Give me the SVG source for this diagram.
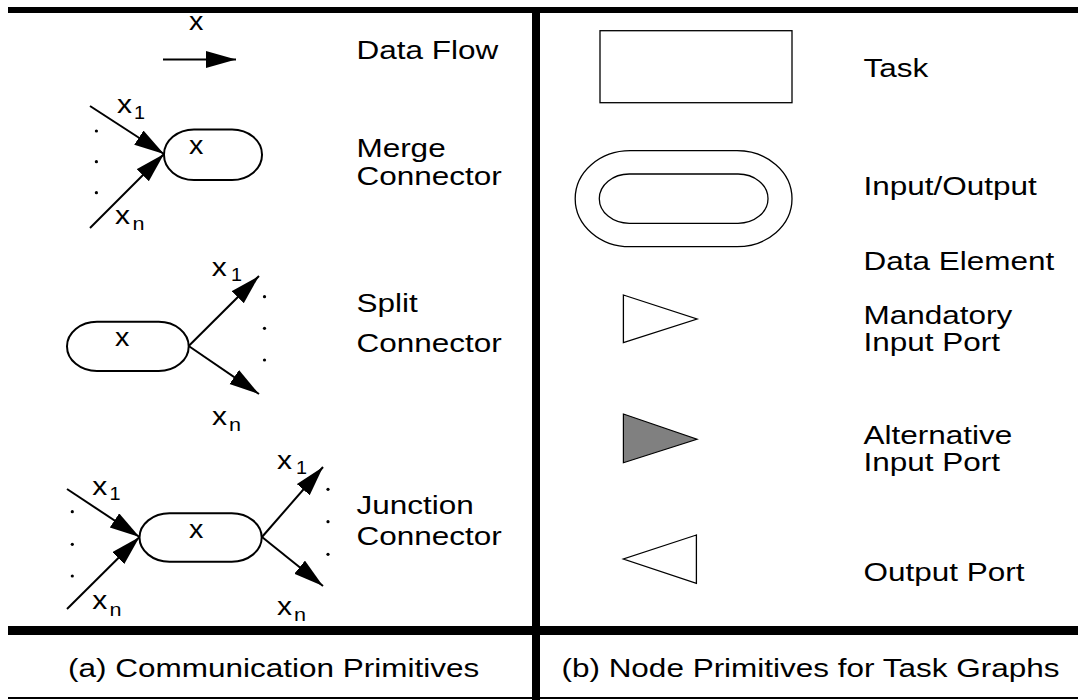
<svg xmlns="http://www.w3.org/2000/svg" width="1078" height="700" viewBox="0 0 1078 700">
<style>
text{font-family:"Liberation Sans",Arial,Helvetica,sans-serif;font-size:25px;fill:#000}
.v{font-size:25px}
.sub{font-size:18px}
.ln{stroke:#000;stroke-width:2;fill:none}
.pill{stroke:#000;stroke-width:2;fill:#fff}
.thin{stroke:#000;stroke-width:1.3;fill:#fff}
.dot{fill:#000}
</style>
<defs>
<marker id="ah" markerUnits="userSpaceOnUse" markerWidth="32" markerHeight="18" refX="30" refY="8.5" orient="auto">
<path d="M0,0 L30,8.5 L0,17 Z" fill="#000"/>
</marker>
</defs>
<rect width="1078" height="700" fill="#fff"/>
<g id="frame">
<rect x="8" y="7" width="1070" height="6" fill="#000"/>
<rect x="532" y="7" width="8" height="693" fill="#000"/>
<rect x="8" y="626" width="1070" height="9" fill="#000"/>
<rect x="8" y="697" width="1070" height="2" fill="#000"/>
</g>
<g id="connectors">
<line class="ln" x1="163" y1="59.5" x2="236" y2="59.5" marker-end="url(#ah)"/>
<line class="ln" x1="90" y1="106" x2="164" y2="154" marker-end="url(#ah)"/>
<line class="ln" x1="90" y1="228" x2="164" y2="154" marker-end="url(#ah)"/>
<line class="ln" x1="188.7" y1="346" x2="259" y2="276" marker-end="url(#ah)"/>
<line class="ln" x1="188.7" y1="346" x2="259" y2="394" marker-end="url(#ah)"/>
<line class="ln" x1="67" y1="489" x2="139.5" y2="537" marker-end="url(#ah)"/>
<line class="ln" x1="67" y1="609" x2="139.5" y2="537" marker-end="url(#ah)"/>
<line class="ln" x1="262" y1="537" x2="323" y2="467" marker-end="url(#ah)"/>
<line class="ln" x1="262" y1="537" x2="323" y2="586" marker-end="url(#ah)"/>
</g>
<g id="data-flow">
<text class="v" transform="translate(189,29.5) scale(1.15,1)">x</text>
<text transform="translate(356.4,58.5) scale(1.26,1)">Data Flow</text>
</g>
<g id="merge-connector">
<rect class="pill" x="164" y="129.5" width="98" height="50.5" rx="30" ry="25"/>
<text class="v" transform="translate(189,154) scale(1.15,1)">x</text>
<text class="v" transform="translate(117,113.3) scale(1.2,1)">x</text>
<text class="sub" transform="translate(134,118.5) scale(1.1,1)">1</text>
<text class="v" transform="translate(115,224) scale(1.2,1)">x</text>
<text class="sub" transform="translate(132.6,230) scale(1.2,1)">n</text>
<circle class="dot" cx="96.4" cy="131" r="1.6"/>
<circle class="dot" cx="96.4" cy="161.7" r="1.6"/>
<circle class="dot" cx="96.4" cy="192.7" r="1.6"/>
<text transform="translate(356.4,157) scale(1.26,1)">Merge</text>
<text transform="translate(356.4,185) scale(1.26,1)">Connector</text>
</g>
<g id="split-connector">
<rect class="pill" x="67" y="321.7" width="121.7" height="49.3" rx="30" ry="24.6"/>
<text class="v" transform="translate(115,346) scale(1.15,1)">x</text>
<text class="v" transform="translate(211.8,276) scale(1.2,1)">x</text>
<text class="sub" transform="translate(231,281) scale(1.1,1)">1</text>
<text class="v" transform="translate(212,425) scale(1.2,1)">x</text>
<text class="sub" transform="translate(229,430.5) scale(1.2,1)">n</text>
<circle class="dot" cx="264.5" cy="296.7" r="1.6"/>
<circle class="dot" cx="264.5" cy="328.3" r="1.6"/>
<circle class="dot" cx="264.5" cy="360" r="1.6"/>
<text transform="translate(356.4,312) scale(1.26,1)">Split</text>
<text transform="translate(356.4,352) scale(1.26,1)">Connector</text>
</g>
<g id="junction-connector">
<rect class="pill" x="139.5" y="513.3" width="122.2" height="48.4" rx="30" ry="24.2"/>
<text class="v" transform="translate(189,538.3) scale(1.15,1)">x</text>
<text class="v" transform="translate(92.3,495) scale(1.2,1)">x</text>
<text class="sub" transform="translate(109.5,500) scale(1.1,1)">1</text>
<text class="v" transform="translate(92.3,609.3) scale(1.2,1)">x</text>
<text class="sub" transform="translate(109.5,615.5) scale(1.2,1)">n</text>
<text class="v" transform="translate(277,468.5) scale(1.2,1)">x</text>
<text class="sub" transform="translate(296,473.5) scale(1.1,1)">1</text>
<text class="v" transform="translate(277,615) scale(1.2,1)">x</text>
<text class="sub" transform="translate(294,621) scale(1.2,1)">n</text>
<circle class="dot" cx="72.3" cy="511.7" r="1.6"/>
<circle class="dot" cx="72.3" cy="544.3" r="1.6"/>
<circle class="dot" cx="72.3" cy="576" r="1.6"/>
<circle class="dot" cx="328" cy="489.3" r="1.6"/>
<circle class="dot" cx="328" cy="521.7" r="1.6"/>
<circle class="dot" cx="328" cy="554.3" r="1.6"/>
<text transform="translate(356.4,514) scale(1.26,1)">Junction</text>
<text transform="translate(356.4,545) scale(1.26,1)">Connector</text>
</g>
<g id="caption-a">
<text transform="translate(68,676.5) scale(1.26,1)">(a) Communication Primitives</text>
</g>
<g id="task">
<rect class="thin" x="600" y="30.7" width="192" height="72"/>
<text transform="translate(863.4,77.3) scale(1.26,1)">Task</text>
</g>
<g id="input-output">
<rect class="thin" x="575.2" y="150.7" width="216.8" height="96" rx="55" ry="48"/>
<rect class="thin" x="599.3" y="174" width="168.7" height="49.3" rx="30" ry="24.6"/>
<text transform="translate(863.4,195) scale(1.26,1)">Input/Output</text>
</g>
<g id="mandatory-input-port">
<text transform="translate(863.4,270) scale(1.26,1)">Data Element</text>
<polygon class="thin" points="623.4,295 697,319 623.4,342.7" stroke-width="1.2"/>
<text transform="translate(863.4,324) scale(1.26,1)">Mandatory</text>
<text transform="translate(863.4,351) scale(1.26,1)">Input Port</text>
</g>
<g id="alternative-input-port">
<polygon points="623.4,414 697,439.3 623.4,462.7" fill="#808080" stroke="#000" stroke-width="1.2"/>
<text transform="translate(863.4,444) scale(1.26,1)">Alternative</text>
<text transform="translate(863.4,471) scale(1.26,1)">Input Port</text>
</g>
<g id="output-port">
<polygon class="thin" points="696.4,535 623.4,559 696.4,583.3" stroke-width="1.2"/>
<text transform="translate(863.4,580.7) scale(1.26,1)">Output Port</text>
</g>
<g id="caption-b">
<text transform="translate(561.4,676.5) scale(1.26,1)">(b) Node Primitives for Task Graphs</text>
</g>
</svg>
